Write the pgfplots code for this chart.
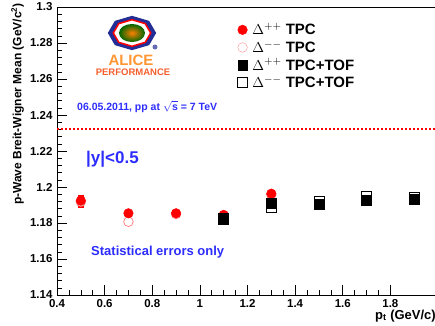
\documentclass[border=0pt]{standalone}
\usepackage{pgfplots}
\pgfplotsset{compat=1.18}
\usepackage{fontspec}
\setmainfont{Liberation Sans}
\usetikzlibrary{shapes.geometric}
\definecolor{rootblue}{RGB}{45,45,255}
\definecolor{rootred}{RGB}{255,0,0}
\definecolor{aliceorange}{RGB}{255,150,50}
\definecolor{alicedark}{RGB}{245,95,45}
\definecolor{alicenavy}{RGB}{35,45,150}

\pgfplotstableread{
x y e
0.5 1.1924 0.003
0.7 1.1854 0.0015
0.9 1.1854 0.0015
1.1 1.1845 0.0015
1.3 1.1963 0.0015
}\dppTPC
\pgfplotstableread{
x y e
0.5 1.1918 0.003
0.7 1.1807 0.0015
0.9 1.1850 0.0015
1.1 1.1840 0.0015
1.3 1.1958 0.0015
}\dmmTPC
\pgfplotstableread{
x y e
1.1 1.1822 0.0015
1.3 1.1908 0.0015
1.5 1.1902 0.0015
1.7 1.1928 0.0015
1.9 1.1933 0.0015
}\dppTOF
\pgfplotstableread{
x y e
1.1 1.1828 0.0015
1.3 1.1884 0.0015
1.5 1.1918 0.0015
1.7 1.1946 0.003
1.9 1.1943 0.0015
}\dmmTOF

\begin{document}
\begin{tikzpicture}[x=1pt,y=1pt]
\begin{axis}[
  scale only axis, width=381pt, height=288pt,
  at={(57pt,30pt)}, anchor=south west,
  xmin=0.4, xmax=2.0, ymin=1.14, ymax=1.3,
  xtick={0.4,0.6,0.8,1,1.2,1.4,1.6,1.8},
  ytick={1.14,1.16,1.18,1.2,1.22,1.24,1.26,1.28,1.3},
  minor x tick num=3, minor y tick num=4,
  xtick pos=bottom, ytick pos=left, tick align=inside,
  major tick length=10pt, minor tick length=5pt,
  tick style={black, line width=0.6pt},
  axis line style={line width=0.8pt},
  /pgf/number format/fixed,
  /pgf/number format/assume math mode=true,
  tick label style={font=\fontsize{11.5}{12}\selectfont\bfseries},
  yticklabel style={xshift=-1pt},
  xticklabel style={yshift=-1pt},
  legend style={at={(rel axis cs:0.466,0.958)}, anchor=north west, draw=none, fill=none,
    font=\fontsize{15}{16}\selectfont\bfseries, row sep=0.5pt, column sep=3pt,
    nodes={inner sep=2pt}},
  legend cell align=left,
  legend image code/.code={\draw[#1] plot coordinates {(4pt,0pt)};},
  error bars/y dir=both, error bars/y explicit,
  error bars/error bar style={line width=0.6pt},
  error bars/error mark options={rotate=90, mark size=3pt, line width=0.6pt},
]
\addlegendimage{only marks, mark=*, mark size=4.8pt, rootred, fill=rootred}
\addlegendentry{$\Delta^{\mathbf{++}}$ TPC}
\addlegendimage{only marks, mark=o, mark size=4.8pt, rootred!45, fill=white}
\addlegendentry{$\Delta^{\mathbf{--}}$ TPC}
\addlegendimage{only marks, mark=square*, mark size=4.8pt, black, fill=black}
\addlegendentry{$\Delta^{\mathbf{++}}$ TPC+TOF}
\addlegendimage{only marks, mark=square*, mark size=4.8pt, black, fill=white, mark options={line width=0.8pt}}
\addlegendentry{$\Delta^{\mathbf{--}}$ TPC+TOF}

\addplot[red, dotted, line width=2pt, forget plot] coordinates {(0.4,1.232) (2.0,1.232)};

\addplot[only marks, mark=*, mark size=4.8pt, rootred, mark options={fill=white, draw=rootred!60, line width=0.6pt}, forget plot]
  table[y error=e] {\dmmTPC};
\addplot[only marks, mark=*, mark size=4.8pt, rootred, mark options={fill=rootred, draw=rootred}, forget plot]
  table[y error=e] {\dppTPC};
\addplot[only marks, mark=square*, mark size=5pt, black, mark options={fill=white, line width=0.8pt}, forget plot]
  table[y error=e] {\dmmTOF};
\addplot[only marks, mark=square*, mark size=5pt, black, mark options={fill=black}, forget plot]
  table[y error=e] {\dppTOF};
\end{axis}

% ALICE logo (decoration)
\node[regular polygon, regular polygon sides=8, minimum size=44pt, fill=alicenavy, xscale=1.1, yscale=0.78, rotate=22.5] at (132,292) {};
\node[regular polygon, regular polygon sides=8, minimum size=34pt, draw=rootred, line width=1.5pt, fill=white, xscale=1.1, yscale=0.78, rotate=22.5] at (132,292) {};
\shade[inner color=orange, outer color=green!40!black] (132,292) ellipse (13pt and 9pt);
\fill[alicenavy!70] (155,278) circle (2.5pt);
\node[anchor=base, text=aliceorange, font=\fontsize{15}{16}\selectfont\bfseries] at (131,260) {ALICE};
\node[anchor=base, text=alicedark, font=\fontsize{9.5}{10}\selectfont\bfseries] at (133,250) {PERFORMANCE};

% annotations
\node[anchor=base west, inner sep=0, text=rootblue, font=\fontsize{10.5}{11}\selectfont\bfseries] at (77,215) {06.05.2011, pp at $\sqrt{\hbox{s}}$ = 7 TeV};
\node[anchor=base west, inner sep=0, text=rootblue, font=\fontsize{17}{18}\selectfont\bfseries] at (86,162) {|y|<0.5};
\node[anchor=base west, inner sep=0, text=rootblue, font=\fontsize{13}{14}\selectfont\bfseries] at (91,70) {Statistical errors only};

% axis titles
\node[rotate=90, anchor=south east, inner sep=0, font=\fontsize{12}{13}\selectfont\bfseries] at (24,322) {p-Wave Breit-Wigner Mean (GeV/c$^{\mathbf{2}}$)};
\node[anchor=base west, inner sep=0, font=\fontsize{13}{14}\selectfont\bfseries] at (375,6) {p$_{\mathbf{t}}$ (GeV/c)};

\pgfresetboundingbox
\useasboundingbox (0,0) rectangle (435,325);
\end{tikzpicture}
\end{document}
